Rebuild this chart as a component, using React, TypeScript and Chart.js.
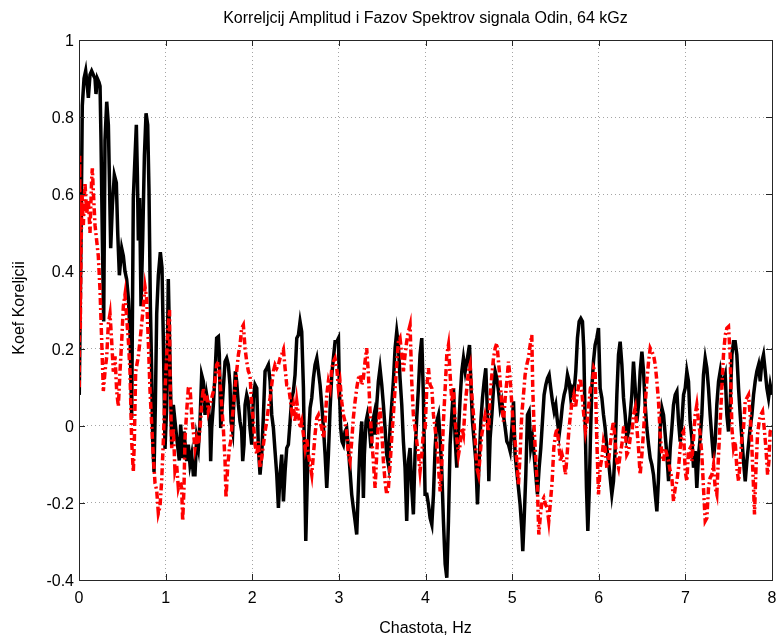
import React, { useEffect, useRef } from "react";
import { Chart, registerables } from "chart.js";

Chart.register(...registerables);

const chartTitle = "Korreljcij Amplitud i Fazov Spektrov signala Odin, 64 kGz";
const xAxisTitle = "Chastota, Hz";
const yAxisTitle = "Koef Koreljcii";

const xTickValues = [0, 1, 2, 3, 4, 5, 6, 7, 8];
const xTickLabels = ["0", "1", "2", "3", "4", "5", "6", "7", "8"];
const yTickValues = [-0.4, -0.2, 0, 0.2, 0.4, 0.6, 0.8, 1];
const yTickLabels = ["-0.4", "-0.2", "0", "0.2", "0.4", "0.6", "0.8", "1"];

// [frequency Hz, correlation] – amplitude spectra correlation (black)
const blackSeries: [number, number][] = [
  [0.003, 0.08], [0.023, 0.48], [0.038, 0.83], [0.058, 0.9], [0.077, 0.92], [0.096, 0.88], [0.108, 0.85], [0.127, 0.91],
  [0.146, 0.92], [0.165, 0.91], [0.185, 0.9], [0.196, 0.86], [0.212, 0.9], [0.231, 0.89], [0.243, 0.88], [0.254, 0.74],
  [0.27, 0.48], [0.285, 0.27], [0.3, 0.74], [0.32, 0.84], [0.339, 0.78], [0.35, 0.65], [0.366, 0.46], [0.385, 0.57],
  [0.408, 0.65], [0.431, 0.63], [0.447, 0.5], [0.466, 0.39], [0.493, 0.46], [0.512, 0.44], [0.531, 0.4], [0.55, 0.38],
  [0.57, 0.33], [0.589, 0.24], [0.608, 0.02], [0.627, 0.59], [0.647, 0.7], [0.662, 0.78], [0.674, 0.65], [0.685, 0.48],
  [0.7, 0.59], [0.716, 0.31], [0.735, 0.48], [0.755, 0.7], [0.774, 0.81], [0.793, 0.78], [0.808, 0.61], [0.824, 0.31],
  [0.839, 0.14], [0.851, -0.04], [0.866, -0.12], [0.881, 0.05], [0.897, 0.29], [0.916, 0.39], [0.939, 0.45], [0.958, 0.41],
  [0.974, 0.22], [0.993, -0.06], [1.012, 0.05], [1.031, 0.38], [1.07, -0.05], [1.089, 0.054], [1.127, -0.03], [1.158, -0.09],
  [1.174, 0.003], [1.197, -0.084], [1.212, -0.015], [1.243, -0.092], [1.262, -0.049], [1.281, -0.1], [1.301, -0.075], [1.32, -0.127],
  [1.339, -0.127], [1.358, -0.032], [1.378, -0.058], [1.397, 0.011], [1.416, 0.132], [1.435, 0.115], [1.455, 0.028], [1.474, 0.08],
  [1.493, 0.054], [1.512, -0.006], [1.52, -0.092], [1.532, -0.006], [1.551, 0.054], [1.57, 0.132], [1.589, 0.227], [1.609, 0.231],
  [1.62, 0.184], [1.636, -0.006], [1.647, 0.028], [1.666, 0.097], [1.686, 0.166], [1.705, 0.175], [1.724, 0.158], [1.743, 0.106],
  [1.755, 0.011], [1.774, -0.015], [1.789, 0.072], [1.805, 0.141], [1.82, 0.115], [1.84, 0.054], [1.859, 0.011], [1.878, -0.015],
  [1.89, -0.092], [1.905, -0.049], [1.917, 0.054], [1.936, 0.08], [1.955, 0.063], [1.974, -0.006], [1.994, -0.049], [2.013, 0.072],
  [2.032, 0.106], [2.052, 0.097], [2.071, -0.058], [2.09, -0.127], [2.109, -0.075], [2.129, 0.028], [2.148, 0.141], [2.167, 0.149],
  [2.186, 0.158], [2.206, 0.115], [2.225, 0.028], [2.244, -0.006], [2.263, -0.066], [2.283, -0.127], [2.302, -0.213], [2.321, -0.127],
  [2.34, -0.075], [2.36, -0.196], [2.379, -0.118], [2.398, -0.058], [2.417, -0.049], [2.437, 0.011], [2.456, 0.072], [2.475, 0.089],
  [2.494, 0.132], [2.514, 0.227], [2.533, 0.235], [2.552, 0.27], [2.571, 0.244], [2.591, 0.097], [2.602, -0.075], [2.618, -0.299],
  [2.633, -0.161], [2.648, -0.041], [2.668, 0.046], [2.687, 0.072], [2.706, 0.123], [2.725, 0.158], [2.745, 0.175], [2.764, 0.141],
  [2.783, 0.106], [2.802, 0.054], [2.822, -0.006], [2.841, -0.075], [2.86, -0.161], [2.879, -0.075], [2.899, 0.046], [2.918, 0.132],
  [2.937, 0.175], [2.956, 0.218], [2.976, 0.218], [2.995, 0.227], [3.006, 0.097], [3.021, -0.006], [3.037, -0.041], [3.052, -0.049],
  [3.071, -0.015], [3.09, -0.006], [3.11, -0.058], [3.129, -0.118], [3.148, -0.178], [3.167, -0.213], [3.187, -0.247], [3.206, -0.282],
  [3.225, -0.161], [3.244, -0.049], [3.264, 0.011], [3.283, -0.187], [3.294, -0.075], [3.314, 0.011], [3.329, 0.028], [3.352, -0.006],
  [3.371, -0.058], [3.391, 0.011], [3.406, 0.028], [3.421, -0.023], [3.437, 0.054], [3.456, 0.115], [3.475, 0.149], [3.495, 0.106],
  [3.514, 0.054], [3.533, -0.006], [3.552, -0.075], [3.572, -0.101], [3.591, -0.006], [3.61, 0.054], [3.629, 0.115], [3.649, 0.201],
  [3.668, 0.244], [3.687, 0.209], [3.706, 0.123], [3.726, 0.054], [3.745, -0.041], [3.764, -0.109], [3.783, -0.247], [3.803, -0.092],
  [3.822, -0.058], [3.841, -0.161], [3.86, -0.23], [3.879, -0.075], [3.899, 0.02], [3.918, 0.097], [3.937, 0.184], [3.957, 0.227],
  [3.976, 0.072], [3.995, -0.178], [4.015, -0.178], [4.034, -0.204], [4.053, -0.239], [4.073, -0.256], [4.092, -0.178], [4.111, -0.058],
  [4.13, 0.011], [4.15, 0.028], [4.169, -0.032], [4.188, -0.118], [4.207, -0.247], [4.227, -0.359], [4.246, -0.394], [4.265, -0.247],
  [4.284, -0.049], [4.304, 0.028], [4.323, 0.097], [4.342, -0.032], [4.361, -0.109], [4.381, -0.015], [4.4, 0.072], [4.419, 0.141],
  [4.438, 0.175], [4.458, 0.141], [4.477, 0.166], [4.496, 0.192], [4.508, 0.209], [4.523, 0.115], [4.542, 0.011], [4.562, -0.041],
  [4.581, -0.092], [4.6, -0.204], [4.619, -0.092], [4.639, 0.011], [4.658, 0.072], [4.677, 0.115], [4.696, 0.149], [4.716, 0.028],
  [4.731, -0.144], [4.746, -0.032], [4.766, 0.028], [4.785, 0.097], [4.804, 0.141], [4.823, 0.123], [4.843, 0.089], [4.862, 0.046],
  [4.881, 0.063], [4.9, 0.028], [4.92, -0.006], [4.939, -0.041], [4.958, -0.049], [4.977, -0.066], [4.997, -0.006], [5.016, 0.063],
  [5.034, -0.075], [5.054, -0.118], [5.073, -0.161], [5.092, -0.204], [5.111, -0.265], [5.123, -0.325], [5.138, -0.247], [5.158, -0.127],
  [5.177, 0.028], [5.196, 0.037], [5.215, -0.058], [5.235, -0.032], [5.254, -0.075], [5.273, -0.127], [5.292, -0.178], [5.312, -0.109],
  [5.331, -0.058], [5.35, 0.011], [5.369, 0.08], [5.389, 0.106], [5.408, 0.123], [5.427, 0.132], [5.446, 0.097], [5.466, 0.063],
  [5.485, 0.037], [5.504, 0.054], [5.523, 0.011], [5.543, -0.023], [5.562, 0.011], [5.581, 0.054], [5.6, 0.08], [5.62, 0.097],
  [5.639, 0.132], [5.658, 0.115], [5.677, 0.072], [5.697, 0.097], [5.716, 0.089], [5.735, 0.141], [5.754, 0.227], [5.774, 0.27],
  [5.793, 0.278], [5.812, 0.27], [5.827, 0.201], [5.843, 0.011], [5.858, -0.161], [5.874, -0.273], [5.889, -0.178], [5.904, -0.032],
  [5.92, 0.097], [5.939, 0.166], [5.958, 0.209], [5.977, 0.227], [5.997, 0.253], [6.016, 0.097], [6.036, 0.072], [6.055, 0.028],
  [6.074, -0.006], [6.093, -0.058], [6.113, -0.092], [6.132, -0.135], [6.151, -0.178], [6.17, -0.144], [6.19, -0.058], [6.209, 0.08],
  [6.228, 0.184], [6.247, 0.218], [6.267, 0.158], [6.286, 0.072], [6.305, 0.028], [6.324, -0.032], [6.344, -0.015], [6.363, 0.028],
  [6.382, 0.08], [6.401, 0.166], [6.421, 0.097], [6.44, 0.011], [6.459, 0.054], [6.478, 0.141], [6.498, 0.192], [6.517, 0.141],
  [6.536, 0.054], [6.555, -0.006], [6.575, -0.049], [6.594, -0.084], [6.613, -0.101], [6.632, -0.127], [6.652, -0.178], [6.671, -0.222],
  [6.69, -0.135], [6.709, -0.006], [6.729, 0.046], [6.748, 0.028], [6.767, -0.023], [6.786, -0.075], [6.806, -0.144], [6.825, -0.058],
  [6.844, -0.006], [6.863, 0.054], [6.883, 0.08], [6.902, 0.089], [6.921, 0.011], [6.94, -0.041], [6.96, 0.011], [6.979, 0.08],
  [6.998, 0.097], [7.017, 0.141], [7.036, 0.115], [7.055, 0.011], [7.075, -0.032], [7.094, -0.109], [7.113, -0.066], [7.132, -0.161],
  [7.152, -0.075], [7.171, -0.032], [7.19, 0.028], [7.209, 0.132], [7.229, 0.175], [7.248, 0.149], [7.267, 0.097], [7.286, 0.028],
  [7.306, -0.032], [7.325, -0.084], [7.344, -0.041], [7.363, 0.054], [7.383, 0.115], [7.402, 0.141], [7.421, 0.106], [7.44, 0.115],
  [7.46, 0.132], [7.479, 0.028], [7.498, -0.015], [7.517, 0.054], [7.537, 0.184], [7.556, 0.218], [7.575, 0.218], [7.594, 0.184],
  [7.614, 0.097], [7.633, 0.028], [7.652, -0.032], [7.671, -0.092], [7.691, -0.144], [7.71, -0.092], [7.729, -0.049], [7.748, -0.006],
  [7.768, 0.028], [7.787, 0.08], [7.806, 0.115], [7.825, 0.141], [7.845, 0.158], [7.864, 0.115], [7.883, 0.166], [7.902, 0.184],
  [7.922, 0.141], [7.941, 0.097], [7.96, 0.072], [7.979, 0.106], [8.0, 0.08],
];

// [frequency Hz, correlation] – phase spectra correlation (red, dash-dot)
const redSeries: [number, number][] = [
  [0.003, 0.1], [0.008, 0.7], [0.015, 0.25], [0.023, 0.45], [0.035, 0.6], [0.05, 0.52], [0.069, 0.63], [0.089, 0.55],
  [0.108, 0.585], [0.127, 0.5], [0.146, 0.64], [0.154, 0.667], [0.165, 0.61], [0.185, 0.52], [0.204, 0.48], [0.223, 0.44],
  [0.243, 0.35], [0.262, 0.22], [0.281, 0.09], [0.3, 0.14], [0.32, 0.18], [0.339, 0.265], [0.358, 0.29], [0.377, 0.22],
  [0.396, 0.14], [0.416, 0.18], [0.435, 0.09], [0.454, 0.05], [0.473, 0.14], [0.493, 0.22], [0.512, 0.31], [0.531, 0.34],
  [0.55, 0.28], [0.57, 0.22], [0.589, 0.14], [0.608, -0.04], [0.627, -0.12], [0.639, -0.04], [0.654, 0.14], [0.685, 0.18],
  [0.704, 0.22], [0.724, 0.265], [0.743, 0.31], [0.762, 0.36], [0.781, 0.33], [0.8, 0.22], [0.82, 0.09], [0.839, 0.006],
  [0.858, -0.08], [0.878, -0.15], [0.897, -0.167], [0.916, -0.227], [0.935, -0.21], [0.955, -0.14], [0.974, -0.037], [0.993, 0.09],
  [1.012, 0.18], [1.031, 0.265], [1.045, 0.3], [1.05, 0.14], [1.07, -0.058], [1.089, -0.006], [1.108, -0.118], [1.127, -0.101],
  [1.147, -0.161], [1.166, -0.144], [1.185, -0.161], [1.197, -0.247], [1.212, -0.161], [1.224, -0.032], [1.243, 0.037], [1.262, 0.097],
  [1.281, 0.102], [1.301, 0.028], [1.32, -0.015], [1.339, -0.058], [1.358, -0.032], [1.378, -0.049], [1.397, -0.006], [1.416, 0.054],
  [1.435, 0.097], [1.455, 0.063], [1.474, 0.08], [1.493, 0.037], [1.512, 0.054], [1.532, 0.072], [1.551, 0.089], [1.57, 0.115],
  [1.589, 0.158], [1.609, 0.166], [1.628, 0.115], [1.647, 0.054], [1.666, -0.006], [1.686, -0.092], [1.697, -0.187], [1.716, -0.109],
  [1.736, -0.058], [1.751, -0.041], [1.774, 0.028], [1.801, 0.097], [1.82, 0.141], [1.84, 0.184], [1.859, 0.209], [1.878, 0.253],
  [1.897, 0.261], [1.917, 0.201], [1.936, 0.166], [1.955, 0.141], [1.974, 0.132], [1.994, 0.054], [2.013, 0.011], [2.032, -0.049],
  [2.052, -0.075], [2.071, -0.041], [2.09, -0.109], [2.109, -0.084], [2.129, -0.049], [2.148, -0.015], [2.167, 0.011], [2.186, 0.046],
  [2.206, 0.072], [2.225, 0.106], [2.244, 0.141], [2.263, 0.158], [2.283, 0.149], [2.302, 0.158], [2.321, 0.175], [2.34, 0.184],
  [2.36, 0.197], [2.379, 0.149], [2.398, 0.106], [2.417, 0.106], [2.437, 0.072], [2.456, 0.037], [2.475, 0.054], [2.494, 0.011],
  [2.514, 0.063], [2.533, 0.028], [2.552, -0.006], [2.571, 0.011], [2.591, -0.023], [2.61, -0.058], [2.629, -0.032], [2.648, -0.075],
  [2.668, -0.101], [2.687, -0.127], [2.706, -0.075], [2.725, -0.023], [2.745, 0.02], [2.764, 0.028], [2.783, 0.011], [2.802, -0.006],
  [2.822, -0.032], [2.841, 0.011], [2.86, 0.08], [2.879, 0.115], [2.899, 0.097], [2.918, 0.149], [2.937, 0.166], [2.956, 0.175],
  [2.976, 0.149], [2.995, 0.097], [3.013, 0.115], [3.033, 0.063], [3.052, 0.028], [3.071, 0.011], [3.09, -0.015], [3.11, -0.075],
  [3.129, -0.092], [3.148, -0.041], [3.167, 0.02], [3.187, 0.063], [3.206, 0.097], [3.225, 0.123], [3.244, 0.132], [3.264, 0.106],
  [3.283, 0.123], [3.302, 0.166], [3.321, 0.201], [3.341, 0.132], [3.36, 0.037], [3.379, -0.032], [3.398, -0.092], [3.418, -0.161],
  [3.437, -0.075], [3.456, 0.011], [3.475, 0.046], [3.495, -0.015], [3.514, -0.092], [3.533, -0.144], [3.552, -0.178], [3.572, -0.161],
  [3.591, -0.101], [3.61, -0.032], [3.629, 0.028], [3.649, 0.097], [3.668, 0.158], [3.687, 0.218], [3.706, 0.227], [3.726, 0.184],
  [3.745, 0.141], [3.764, 0.184], [3.783, 0.218], [3.803, 0.244], [3.822, 0.261], [3.841, 0.115], [3.86, 0.028], [3.879, -0.006],
  [3.899, -0.041], [3.918, -0.075], [3.937, -0.118], [3.957, -0.075], [3.976, -0.015], [3.996, -0.006], [4.015, 0.097], [4.034, 0.149],
  [4.053, 0.106], [4.073, 0.097], [4.092, 0.028], [4.111, -0.006], [4.13, -0.049], [4.15, -0.109], [4.169, -0.17], [4.188, -0.101],
  [4.207, 0.011], [4.227, 0.097], [4.246, 0.184], [4.265, 0.209], [4.284, 0.132], [4.304, 0.063], [4.323, 0.097], [4.342, 0.011],
  [4.361, -0.032], [4.381, -0.075], [4.4, -0.049], [4.419, -0.006], [4.438, -0.023], [4.458, 0.054], [4.477, 0.097], [4.496, 0.141],
  [4.515, 0.158], [4.535, 0.08], [4.554, 0.028], [4.573, -0.032], [4.592, -0.109], [4.612, -0.127], [4.631, -0.075], [4.65, -0.023],
  [4.669, 0.003], [4.689, 0.028], [4.708, 0.011], [4.727, -0.015], [4.746, 0.072], [4.766, 0.132], [4.785, 0.175], [4.804, 0.201],
  [4.823, 0.214], [4.843, 0.166], [4.862, 0.115], [4.881, 0.054], [4.9, 0.011], [4.92, 0.072], [4.939, 0.115], [4.958, 0.166],
  [4.977, 0.123], [4.997, 0.054], [5.016, -0.006], [5.034, -0.041], [5.054, -0.092], [5.073, -0.153], [5.092, -0.075], [5.111, 0.028],
  [5.131, 0.08], [5.15, 0.132], [5.169, 0.158], [5.188, 0.175], [5.208, 0.209], [5.227, 0.235], [5.238, 0.097], [5.254, -0.006],
  [5.273, -0.084], [5.292, -0.161], [5.308, -0.282], [5.327, -0.23], [5.346, -0.196], [5.366, -0.187], [5.385, -0.204], [5.404, -0.213],
  [5.423, -0.247], [5.443, -0.196], [5.462, -0.144], [5.481, -0.058], [5.5, -0.023], [5.52, -0.006], [5.539, -0.049], [5.558, -0.092],
  [5.577, -0.075], [5.596, -0.092], [5.616, -0.127], [5.635, -0.075], [5.654, -0.015], [5.673, 0.028], [5.693, 0.063], [5.712, 0.08],
  [5.731, 0.046], [5.75, 0.08], [5.77, 0.106], [5.789, 0.123], [5.808, 0.08], [5.827, 0.028], [5.847, -0.015], [5.866, 0.011],
  [5.885, 0.054], [5.904, 0.097], [5.924, 0.106], [5.943, 0.149], [5.958, 0.141], [5.977, -0.032], [5.997, -0.178], [6.016, -0.109],
  [6.036, -0.084], [6.055, -0.041], [6.074, -0.058], [6.093, -0.109], [6.113, -0.092], [6.132, -0.049], [6.151, -0.015], [6.17, 0.011],
  [6.19, -0.041], [6.209, -0.092], [6.228, -0.109], [6.247, -0.075], [6.267, -0.049], [6.286, -0.006], [6.305, -0.006], [6.324, -0.075],
  [6.344, -0.066], [6.363, -0.032], [6.382, -0.023], [6.401, 0.028], [6.421, 0.046], [6.44, -0.006], [6.459, -0.058], [6.478, -0.127],
  [6.498, -0.075], [6.517, -0.015], [6.536, 0.054], [6.555, 0.115], [6.575, 0.166], [6.594, 0.201], [6.613, 0.192], [6.632, 0.184],
  [6.652, 0.158], [6.671, 0.115], [6.69, 0.063], [6.709, -0.023], [6.729, -0.075], [6.748, -0.092], [6.767, -0.058], [6.786, -0.075],
  [6.806, -0.092], [6.825, -0.118], [6.844, -0.135], [6.863, -0.196], [6.883, -0.161], [6.902, -0.144], [6.921, -0.109], [6.94, -0.058],
  [6.96, -0.023], [6.979, -0.015], [6.998, -0.118], [7.017, -0.144], [7.036, -0.066], [7.055, -0.058], [7.075, -0.092], [7.094, -0.032],
  [7.113, 0.028], [7.132, 0.054], [7.152, 0.011], [7.171, -0.023], [7.19, -0.075], [7.209, -0.161], [7.229, -0.247], [7.248, -0.239],
  [7.267, -0.161], [7.286, -0.135], [7.306, -0.127], [7.325, -0.101], [7.344, -0.161], [7.363, -0.178], [7.383, -0.075], [7.402, 0.011],
  [7.421, 0.097], [7.44, 0.184], [7.46, 0.235], [7.479, 0.253], [7.498, 0.257], [7.517, 0.184], [7.537, -0.006], [7.556, -0.058],
  [7.575, -0.041], [7.594, -0.109], [7.614, -0.144], [7.633, -0.092], [7.652, -0.032], [7.671, -0.006], [7.691, 0.063], [7.71, 0.072],
  [7.729, 0.08], [7.748, 0.028], [7.768, -0.058], [7.787, -0.161], [7.798, -0.23], [7.814, -0.118], [7.833, -0.023], [7.852, 0.011],
  [7.871, 0.028], [7.891, 0.037], [7.91, -0.006], [7.93, -0.058], [7.949, -0.127], [7.964, -0.092], [7.979, -0.015], [8.0, -0.006],
];

const FONT = '16px "Liberation Sans", Arial, Helvetica, sans-serif';

const matlabFrame = {
  id: "matlabFrame",
  afterDraw(chart: any) {
    const { ctx, chartArea: a, scales } = chart;
    const xs = scales.x;
    const ys = scales.y;
    const L = Math.round(a.left);
    const R = Math.round(a.right);
    const T = Math.round(a.top);
    const B = Math.round(a.bottom);
    ctx.save();
    ctx.strokeStyle = "#262626";
    ctx.lineWidth = 1;
    ctx.setLineDash([]);
    ctx.strokeRect(L + 0.5, T + 0.5, R - L, B - T);
    const tl = 6;
    ctx.beginPath();
    xTickValues.forEach((v) => {
      const px = Math.round(xs.getPixelForValue(v)) + 0.5;
      ctx.moveTo(px, B);
      ctx.lineTo(px, B - tl);
      ctx.moveTo(px, T);
      ctx.lineTo(px, T + tl);
    });
    yTickValues.forEach((v) => {
      const py = Math.round(ys.getPixelForValue(v)) + 0.5;
      ctx.moveTo(L, py);
      ctx.lineTo(L + tl, py);
      ctx.moveTo(R, py);
      ctx.lineTo(R - tl, py);
    });
    ctx.stroke();

    ctx.fillStyle = "#000";
    ctx.font = FONT;
    ctx.textBaseline = "alphabetic";
    ctx.textAlign = "center";
    xTickValues.forEach((v, i) => {
      ctx.fillText(xTickLabels[i], xs.getPixelForValue(v), B + 23);
    });
    ctx.textAlign = "right";
    yTickValues.forEach((v, i) => {
      ctx.fillText(yTickLabels[i], L - 5, ys.getPixelForValue(v) + 6);
    });

    const cx = (a.left + a.right) / 2;
    ctx.textAlign = "center";
    ctx.fillText(chartTitle, cx, 23);
    ctx.fillText(xAxisTitle, cx, 633);

    ctx.translate(24, (a.top + a.bottom) / 2 - 2);
    ctx.rotate(-Math.PI / 2);
    ctx.fillText(yAxisTitle, 0, 0);
    ctx.restore();
  },
};

export default function App() {
  const ref = useRef<HTMLCanvasElement | null>(null);

  useEffect(() => {
    if (!ref.current) return;
    const gridColor = "rgba(90, 90, 90, 0.55)";
    const chart = new Chart(ref.current, {
      type: "line",
      data: {
        datasets: [
          {
            label: "Faza",
            data: redSeries.map(([f, v]) => ({ x: f, y: v })),
            borderColor: "#ff0000",
            borderWidth: 3.5,
            borderDash: [7, 3, 2, 3],
            pointRadius: 0,
            tension: 0,
            fill: false,
          },
          {
            label: "Amplituda",
            data: blackSeries.map(([f, v]) => ({ x: f, y: v })),
            borderColor: "#000000",
            borderWidth: 3.5,
            pointRadius: 0,
            tension: 0,
            fill: false,
          },
        ],
      },
      options: {
        responsive: false,
        animation: false,
        devicePixelRatio: 1,
        layout: { padding: { left: 79, right: 5, top: 40, bottom: 55 } },
        plugins: {
          legend: { display: false },
          tooltip: { enabled: false },
          title: { display: false },
        },
        scales: {
          x: {
            type: "linear",
            min: 0,
            max: 8,
            afterBuildTicks: (s: any) => {
              s.ticks = xTickValues.map((v) => ({ value: v }));
            },
            afterFit: (s: any) => {
              s.height = 0;
            },
            ticks: { display: false },
            grid: { color: gridColor, lineWidth: 1, drawTicks: false },
            border: { display: false, dash: [1, 3] },
          },
          y: {
            type: "linear",
            min: -0.4,
            max: 1,
            afterBuildTicks: (s: any) => {
              s.ticks = yTickValues.map((v) => ({ value: v }));
            },
            afterFit: (s: any) => {
              s.width = 0;
            },
            ticks: { display: false },
            grid: { color: gridColor, lineWidth: 1, drawTicks: false },
            border: { display: false, dash: [1, 3] },
          },
        },
      },
      plugins: [matlabFrame],
    });
    return () => chart.destroy();
  }, []);

  return (
    <div style={{ position: "absolute", left: 0, top: 0, width: 777, height: 635, background: "#fff" }}>
      <canvas ref={ref} width={777} height={635} style={{ width: 777, height: 635, display: "block" }} />
    </div>
  );
}
